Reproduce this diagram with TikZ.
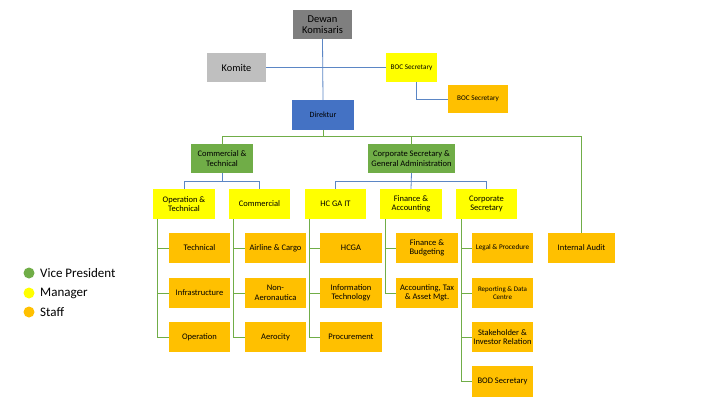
\documentclass[tikz,border=0pt]{standalone}
\usepackage{fontspec}
\setmainfont{Carlito}
\definecolor{vpgreen}{HTML}{70AD47}
\definecolor{mgryellow}{HTML}{FFFF00}
\definecolor{stforange}{HTML}{FFC000}
\definecolor{dirblue}{HTML}{4472C4}
\definecolor{dkgray}{HTML}{7F7F7F}
\definecolor{ltgray}{HTML}{BFBFBF}
\definecolor{bline}{HTML}{5B86C5}
\definecolor{gline}{HTML}{70AD47}
\begin{document}
\begin{tikzpicture}[x=1pt,y=-1pt,
  box/.style={draw=none,inner sep=1pt,align=center,text=black,minimum height=30pt,font=\fontsize{8.5}{9.5}\selectfont},
  vp/.style={box,fill=vpgreen,minimum width=62pt,minimum height=29pt},
  mgr/.style={box,fill=mgryellow,minimum width=61pt},
  stf/.style={box,fill=stforange,minimum width=61pt},
  bl/.style={draw=bline,line width=0.8pt},
  gl/.style={draw=gline,line width=0.8pt},
  lg/.style={circle,inner sep=0pt,minimum size=11pt},
  lgt/.style={anchor=west,inner sep=0pt,font=\fontsize{13}{14}\selectfont}]
\useasboundingbox (0,0) rectangle (720,405);
\fill[white] (0,0) rectangle (720,405);
% top
\node[box,fill=dkgray,minimum width=59pt,minimum height=29pt,font=\fontsize{10.5}{11}\selectfont] (dk) at (322.5,24.5) {Dewan\\Komisaris};
\node[box,fill=ltgray,minimum width=59pt,minimum height=29pt,font=\fontsize{10.3}{11}\selectfont] (komite) at (236.5,67.5) {Komite};
\node[box,fill=mgryellow,minimum width=51pt,minimum height=29pt,font=\fontsize{7.2}{8}\selectfont] (bocy) at (411.5,67.5) {BOC Secretary};
\node[box,fill=stforange,minimum width=60pt,minimum height=28pt,font=\fontsize{7.2}{8}\selectfont] (boco) at (478,99) {BOC Secretary};
\node[box,fill=dirblue,minimum width=62pt,minimum height=30pt,font=\fontsize{8}{9}\selectfont] (dir) at (323,115) {Direktur};
% VPs
\node[vp] (ct) at (222,158.5) {Commercial \&\\Technical};
\node[vp,minimum width=87pt] (csga) at (411.5,158.5) {Corporate Secretary \&\\General Administration};
% managers
\node[mgr,minimum width=62pt] (ot) at (184,204) {Operation \&\\Technical};
\node[mgr] (com) at (259.5,204) {Commercial};
\node[mgr] (hc) at (335.5,204) {HC GA IT};
\node[mgr,minimum width=62pt] (fa) at (411,204) {Finance \&\\Accounting};
\node[mgr] (cs) at (486.5,204) {Corporate\\Secretary};
% staff
\node[stf] (s11) at (199.5,248) {Technical};
\node[stf] (s12) at (199.5,293) {Infrastructure};
\node[stf] (s13) at (199.5,337) {Operation};
\node[stf] (s21) at (275.5,248) {Airline \& Cargo};
\node[stf] (s22) at (275.5,293) {Non-\\Aeronautica};
\node[stf] (s23) at (275.5,337) {Aerocity};
\node[stf,minimum width=62pt] (s31) at (351,248) {HCGA};
\node[stf,minimum width=62pt] (s32) at (351,293) {Information\\Technology};
\node[stf,minimum width=62pt] (s33) at (351,337) {Procurement};
\node[stf,minimum width=62pt] (s41) at (427,248) {Finance \&\\Budgeting};
\node[stf,minimum width=62pt] (s42) at (427,293) {Accounting, Tax\\\& Asset Mgt.};
\node[stf,font=\fontsize{7.2}{8}\selectfont] (s51) at (502.5,248) {Legal \& Procedure};
\node[stf,font=\fontsize{7}{8}\selectfont] (s52) at (502.5,293) {Reporting \& Data\\Centre};
\node[stf] (s53) at (502.5,337) {Stakeholder \&\\Investor Relation};
\node[stf,minimum height=31pt] (s54) at (502.5,381.5) {BOD Secretary};
\node[stf,minimum width=67pt] (ia) at (581.5,248) {Internal Audit};
% top connectors
\draw[bl] (dk.south) -- (dir.north);
\draw[bl] (komite.east) -- (bocy.west);
\draw[bl] ([xshift=4.5pt]bocy.south) |- (boco.west);
% green bus
\coordinate (gbus) at (0,136);
\draw[gl] (dir.south) -- (dir.south |- gbus);
\draw[gl] (ct.north) -- (ct.north |- gbus) -| (ia.north);
\draw[gl] (csga.north) -- (csga.north |- gbus);
% blue buses
\coordinate (bbus) at (0,181);
\draw[bl] (ct.south) -- (ct.south |- bbus);
\draw[bl] (ot.north) -- (ot.north |- bbus) -| (com.north);
\draw[bl] (csga.south) -- (fa.north);
\draw[bl] (hc.north) -- (hc.north |- bbus) -| (cs.north);
% staff connectors
\foreach \m/\a/\b/\c in {ot/s11/s12/s13, com/s21/s22/s23, hc/s31/s32/s33}{
  \draw[gl] ([xshift=5pt]\m.south west) |- (\c.west);
  \draw[gl] ([xshift=5pt]\m.south west) |- (\a.west);
  \draw[gl] ([xshift=5pt]\m.south west) |- (\b.west);
}
\draw[gl] ([xshift=6pt]fa.south west) |- (s42.west);
\draw[gl] ([xshift=6pt]fa.south west) |- (s41.west);
\foreach \s in {s51,s52,s53,s54}{
  \draw[gl] ([xshift=6pt]cs.south west) |- (\s.west);
}
% legend
\node[lg,fill=vpgreen] (l1) at (29,273) {};
\node[lg,fill=mgryellow] (l2) at (29,293) {};
\node[lg,fill=stforange] (l3) at (29,312) {};
\node[lgt] (t1) at (40,273) {Vice President};
\node[lgt] (t2) at (40,293) {Manager};
\node[lgt] (t3) at (40,312) {Staff};
\end{tikzpicture}
\end{document}
